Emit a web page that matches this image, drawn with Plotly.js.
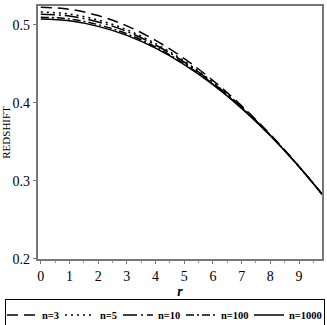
<!DOCTYPE html>
<html>
<head>
<meta charset="utf-8">
<script src="https://cdn.plot.ly/plotly-3.0.1.min.js"></script>
<style>html,body{margin:0;padding:0;background:#fff;}#chart{width:327px;height:325px;}</style>
</head>
<body>
<div id="chart"></div>
<script>
var r = [0, 1, 2, 3, 4, 5, 6, 7, 8, 9, 9.8];
var n3    = [0.5227, 0.5200, 0.5119, 0.4987, 0.4801, 0.4568, 0.4287, 0.3962, 0.3595, 0.3186, 0.2830];
var n5    = [0.5165, 0.5139, 0.5062, 0.4937, 0.4760, 0.4536, 0.4265, 0.3948, 0.3588, 0.3184, 0.2830];
var n10   = [0.5137, 0.5113, 0.5038, 0.4915, 0.4742, 0.4523, 0.4255, 0.3943, 0.3586, 0.3183, 0.2830];
var n100  = [0.5099, 0.5076, 0.5003, 0.4885, 0.4717, 0.4503, 0.4242, 0.3934, 0.3582, 0.3182, 0.2830];
var n1000 = [0.5075, 0.5052, 0.4981, 0.4865, 0.4701, 0.4491, 0.4233, 0.3929, 0.3579, 0.3181, 0.2830];
var names = ['n=3', 'n=5', 'n=10', 'n=100', 'n=1000'];

var series = [n3, n5, n10, n100, n1000];
var dashes = ['11px,6px', '2px,4px', '14px,4px,2px,4px', '8px,3px,2px,3px', 'solid'];
var entryWidths = [17, 17, 22, 27, 30];
var traces = series.map(function (ys, i) {
  return {
    x: r, y: ys, name: names[i], type: 'scatter', mode: 'lines',
    legendwidth: entryWidths[i],
    line: {color: '#000', width: 1.5, dash: dashes[i], shape: 'spline'}
  };
});

var layout = {
  width: 327, height: 325,
  margin: {l: 4, r: 5, t: 5, b: 59},
  paper_bgcolor: '#fff', plot_bgcolor: '#fff',
  font: {family: '"Liberation Serif", "DejaVu Serif", serif', color: '#000', size: 14},
  showlegend: true,
  xaxis: {
    domain: [0.1038, 1],
    range: [-0.1, 9.8], tickvals: [0,1,2,3,4,5,6,7,8,9],
    showgrid: false, zeroline: false, automargin: true,
    showline: true, linecolor: '#777', linewidth: 2, mirror: true,
    ticks: 'outside', ticklen: 3, tickcolor: '#777',
    minor: {dtick: 0.5, ticks: 'outside', ticklen: 2, tickcolor: '#999'},
    title: {text: '<b><i>r</i></b>', font: {size: 14}, standoff: 2}
  },
  yaxis: {
    range: [0.2, 0.5242], tickvals: [0.2, 0.3, 0.4, 0.5],
    showgrid: false, zeroline: false, automargin: false,
    showline: true, linecolor: '#777', linewidth: 2, mirror: true,
    ticks: 'outside', ticklen: 3, tickcolor: '#777',
    title: {text: 'REDSHIFT', font: {size: 11}, standoff: 2}
  },
  legend: {
    orientation: 'h', xref: 'paper', yref: 'container',
    x: 0, xanchor: 'left', y: 0.0785, yanchor: 'top',
    bordercolor: '#000', borderwidth: 1,
    font: {size: 10.5, weight: 'bold'},
    itemwidth: 30, indentation: -4, tracegroupgap: 0
  }
};
Plotly.newPlot('chart', traces, layout, {displayModeBar: false, staticPlot: true});
</script>
</body>
</html>
